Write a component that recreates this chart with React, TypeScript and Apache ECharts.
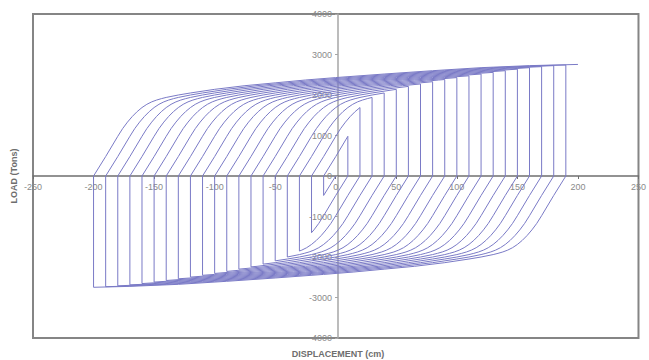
import React, { useEffect, useRef } from "react";
import * as echarts from "echarts";

// Shape of one loading branch, read from the outermost loop: travel from the zero-load start (cm) and load reached (Tons)
const branchTravel = [0, 10, 20, 24, 28, 32, 36, 40, 44, 48, 52, 56, 60, 70, 80, 100, 125, 150, 175, 200, 240, 280, 320, 360, 400];
const branchLoad = [0, 480, 980, 1170, 1330, 1470, 1590, 1690, 1770, 1830, 1875, 1910, 1940, 2000, 2050, 2140, 2230, 2300, 2370, 2430, 2518, 2600, 2675, 2725, 2755];

// Negative reversal displacements (cm) and the load reached there (Tons)
const negPeaks = [-10, -20, -30, -40, -50, -60, -70, -80, -90, -100, -110, -120, -130, -140, -150, -160, -170, -180, -190, -200];
const negPeakLoads = [-480, -1400, -1853, -2000, -2095, -2176, -2244, -2300, -2356, -2406, -2452, -2496, -2538, -2580, -2619, -2656, -2688, -2712, -2733, -2748];

// Positive reversal displacements (cm) and the load reached there (Tons); the last one is the end of the test
const posPeaks = [10, 20, 30, 40, 50, 60, 70, 80, 90, 100, 110, 120, 130, 140, 150, 160, 170, 180, 190, 200];
const posPeakLoads = [980, 1690, 1940, 2050, 2140, 2212, 2272, 2328, 2382, 2430, 2474, 2518, 2559, 2600, 2638, 2675, 2700, 2725, 2740, 2755];

const xTicks = { min: -250, max: 250, interval: 50 };
const yTicks = { min: -4000, max: 4000, interval: 1000 };

function buildPath(): number[][] {
  const pts: number[][] = [];
  const branch = (xs: number, xe: number, ye: number, last: boolean) => {
    const dir = xe > xs ? 1 : -1;
    const travel = Math.abs(xe - xs);
    pts.push([xs, 0]);
    for (let k = 0; k < branchTravel.length; k++) {
      const s = branchTravel[k];
      if (s > 0 && s < travel) pts.push([xs + dir * s, dir * branchLoad[k]]);
    }
    pts.push([xe, ye]);
    if (!last) pts.push([xe, 0]);
  };
  for (let i = 0; i < negPeaks.length; i++) {
    const from = i === 0 ? 0 : posPeaks[i - 1];
    branch(from, negPeaks[i], negPeakLoads[i], false);
    branch(negPeaks[i], posPeaks[i], posPeakLoads[i], i === negPeaks.length - 1);
  }
  return pts;
}

const GRID = { left: 33, top: 14, width: 610, height: 324 };

export default function App() {
  const ref = useRef<HTMLDivElement>(null);
  useEffect(() => {
    if (!ref.current) return;
    const chart = echarts.init(ref.current, undefined, { renderer: "svg" });
    const labelStyle = {
      color: "#8a8a8a",
      fontSize: 9,
      fontFamily: "Liberation Sans, Arial, sans-serif",
      formatter: (v: number) => String(v),
      showMinLabel: true,
      showMaxLabel: true,
      hideOverlap: false,
    };
    chart.setOption({
      animation: false,
      backgroundColor: "#ffffff",
      grid: {
        left: GRID.left,
        top: GRID.top,
        width: GRID.width,
        height: GRID.height,
        show: true,
        borderColor: "#858585",
        borderWidth: 2,
        backgroundColor: "transparent",
        containLabel: false,
      },
      xAxis: {
        type: "value",
        position: "bottom",
        offset: -GRID.height / 2,
        ...xTicks,
        axisLine: { onZero: false, lineStyle: { color: "#6f6f6f", width: 1.5 } },
        axisTick: { show: true, length: 3, lineStyle: { color: "#6f6f6f" } },
        axisLabel: { ...labelStyle, margin: 6 },
        splitLine: { show: false },
      },
      yAxis: {
        type: "value",
        position: "left",
        offset: -GRID.width / 2,
        ...yTicks,
        axisLine: { onZero: false, lineStyle: { color: "#a6a6a6", width: 1.5 } },
        axisTick: { show: true, length: 3, lineStyle: { color: "#a6a6a6" } },
        axisLabel: { ...labelStyle, margin: 6 },
        splitLine: { show: false },
      },
      series: [
        {
          type: "line",
          data: buildPath(),
          showSymbol: false,
          symbol: "none",
          lineStyle: { color: "#7a7ac6", width: 1 },
          z: 3,
        },
      ],
      graphic: [
        {
          type: "text",
          x: 338,
          y: 354,
          style: {
            text: "DISPLACEMENT (cm)",
            fill: "#6e6e6e",
            font: "bold 9px 'Liberation Sans', Arial, sans-serif",
            align: "center",
            verticalAlign: "middle",
          },
        },
        {
          type: "text",
          x: 14,
          y: 176,
          rotation: Math.PI / 2,
          style: {
            text: "LOAD (Tons)",
            fill: "#6e6e6e",
            font: "bold 9px 'Liberation Sans', Arial, sans-serif",
            align: "center",
            verticalAlign: "middle",
          },
        },
      ],
    });
    return () => chart.dispose();
  }, []);
  return <div ref={ref} style={{ position: "fixed", left: 0, top: 0, width: 649, height: 360 }} />;
}
